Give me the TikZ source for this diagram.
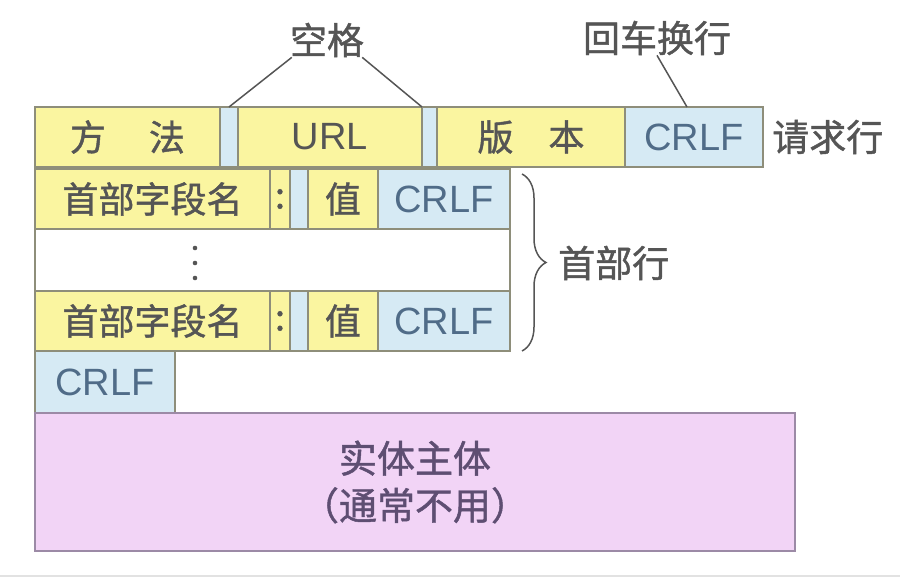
\documentclass[tikz,border=0pt]{standalone}
\usepackage{fontspec}
\setmainfont{Liberation Sans}
\newfontfamily\cjk[FakeBold=1.2]{Noto Sans CJK SC}
\usepackage{tikz}
\usetikzlibrary{decorations.pathreplacing}
\definecolor{fieldyel}{HTML}{FAF5A0}
\definecolor{crlfblue}{HTML}{D6EAF4}
\definecolor{bodypink}{HTML}{F2D4F6}
\definecolor{edgecol}{HTML}{8E8E7A}
\definecolor{bodyedge}{HTML}{9C8AA6}
\definecolor{txtgray}{HTML}{555555}
\definecolor{crlftxt}{HTML}{506C88}
\definecolor{bodytxt}{HTML}{5E4E72}
\definecolor{sepgray}{HTML}{E2E2E2}

\begin{document}
\begin{tikzpicture} [x=1pt,y=-1pt,
    box/.style={draw=edgecol,line width=1.3pt,inner sep=0pt,outer sep=0pt,anchor=north west,minimum height=60pt},
    yel/.style={box,fill=fieldyel,text=txtgray,font=\cjk\fontsize{36}{40}\selectfont},
    blu/.style={box,fill=crlfblue,text=crlftxt,font=\fontsize{38}{42}\selectfont},
    lbl/.style={text=txtgray,inner sep=0pt,font=\cjk\fontsize{37}{40}\selectfont},
    tie/.style={draw=txtgray,line width=1.5pt}]
    \useasboundingbox (0,0) rectangle (914,584);
                     % request line
    \node[yel,minimum width=185pt] (method) at (35,107) {方\hspace{43pt}法};
    \node[blu,minimum width=18pt] (gapA) at (method.north east) {}; % space
    \node[yel,minimum width=184pt,font=\fontsize{38}{42}\selectfont] (url) at (gapA.north east) {URL};
    \node[blu,minimum width=15pt] (gapB) at (url.north east) {}; % space
    \node[yel,minimum width=188pt] (version) at (gapB.north east) {版\hspace{35pt}本};
    \node[blu,minimum width=138pt] (crlfA) at (version.north east) {CRLF};
    \node[lbl,anchor=west] (reqline) at (772,137) {请求行};

    \node[lbl] (spacelbl) at (327,40) {空格};
    \draw[tie] ([xshift=2pt]spacelbl.south west) -- (gapA.north);
    \draw[tie] ([xshift=-2pt]spacelbl.south east) -- (gapB.north west);
    \node[lbl] (crlflbl) at (657,38) {回车换行};
    \draw[tie] (crlflbl.south) -- ([xshift=-7pt]crlfA.north);
                     % header lines
    \node[yel,minimum width=235pt] (nameA) at (35,169) {首部字段名};
    \node[yel,minimum width=20pt] (colonA) at (nameA.north east) {:};
    \node[blu,minimum width=18pt] (gapC) at (colonA.north east) {};
    \node[yel,minimum width=70pt] (valA) at (gapC.north east) {值};
    \node[blu,minimum width=132pt] (crlfB) at (valA.north east) {CRLF};

    \node[box,fill=white,minimum width=475pt,minimum height=62pt] (more) at (nameA.south west) {};
    \foreach \k in {248,263,278}
        \fill[txtgray] (195,\k) circle (2.3pt); % dots

    \node[yel,minimum width=235pt] (nameB) at (more.south west) {首部字段名};
    \node[yel,minimum width=20pt] (colonB) at (nameB.north east) {:};
    \node[blu,minimum width=18pt] (gapD) at (colonB.north east) {};
    \node[yel,minimum width=70pt] (valB) at (gapD.north east) {值};
    \node[blu,minimum width=132pt] (crlfC) at (valB.north east) {CRLF};

    \draw[tie,decorate,decoration={brace,amplitude=24pt}]
        ([xshift=12pt,yshift=-5pt]crlfB.north east) -- ([xshift=12pt]crlfC.south east);
    \node[lbl,anchor=west] (hdrlines) at (558,263) {首部行};
                     % blank line and body
    \node[blu,minimum width=140pt,minimum height=62pt] (crlfD) at (nameB.south west) {CRLF};
    \node[box,draw=bodyedge,fill=bodypink,minimum width=760pt,minimum height=138pt,
          text=bodytxt,align=center,font=\cjk\fontsize{38}{47}\selectfont] (body) at (crlfD.south west) {实体主体\\（通常不用）};

    \draw[draw=sepgray,line width=2pt] (0,576) -- (900,576);
\end{tikzpicture}
\end{document}
